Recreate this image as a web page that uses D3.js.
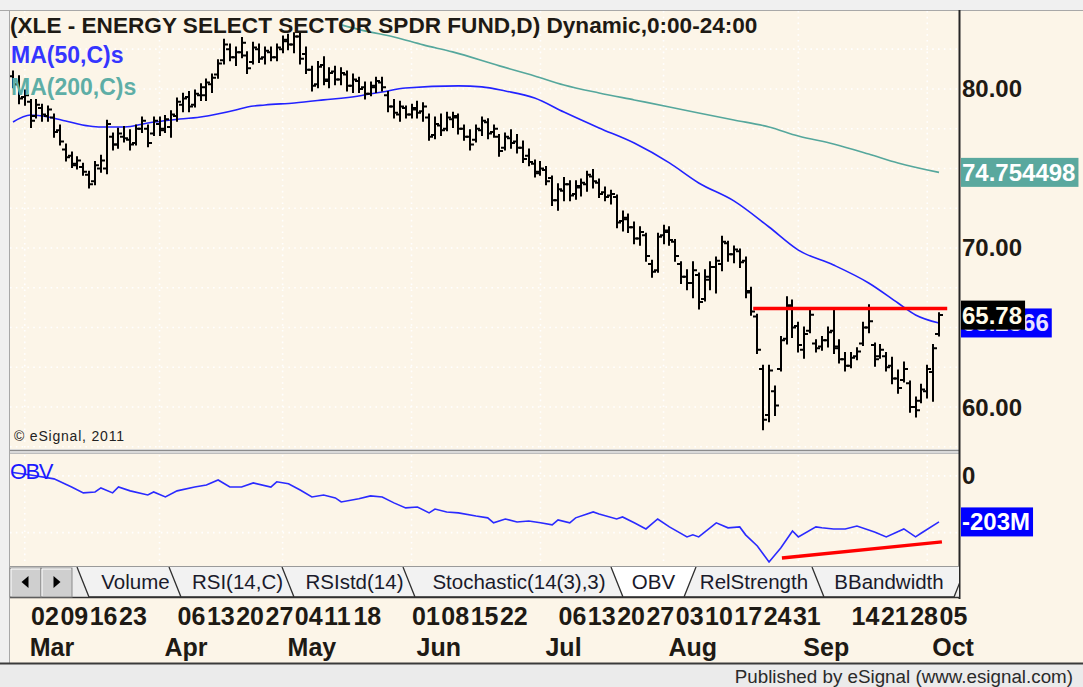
<!DOCTYPE html>
<html><head><meta charset="utf-8">
<script src="https://cdn.jsdelivr.net/npm/d3@7"></script>
<style>
html,body{margin:0;padding:0;background:#f0f0f0;overflow:hidden;}
svg{display:block;font-family:"Liberation Sans",Arial,sans-serif;}
</style></head><body>
<svg id="c" width="1083" height="687"></svg>
<script>
// ---------------- DATA ----------------
const dateStart = "2011-02-25", dateEnd = "2011-10-05";
const opens  = [80.8,80.3,79.5,79.2,78.3,78.8,78.3,78.2,77.4,76.2,75.8,75.2,75.1,74.6,74.2,75.0,75.0,77.0,76.5,77.0,76.8,76.6,77.5,77.5,77.2,77.8,77.5,77.6,78.3,79.0,79.5,79.0,79.6,79.6,80.3,80.9,81.8,82.5,82.0,82.3,82.1,81.7,82.5,82.0,82.3,82.0,82.5,83.0,82.8,83.3,82.2,81.2,80.3,81.5,80.5,81.1,80.6,80.9,80.2,80.5,80.1,79.7,80.1,80.4,79.6,78.9,78.4,78.8,78.4,78.7,78.6,78.2,77.1,77.7,77.5,78.1,78.2,77.5,77.0,76.8,77.4,77.9,77.3,77.0,76.3,76.9,76.7,76.3,75.8,75.3,74.8,74.9,74.4,73.0,73.6,74.0,73.4,73.8,74.0,74.5,74.1,73.5,73.3,73.2,71.7,71.8,71.3,70.6,70.8,69.0,68.6,70.8,71.0,70.4,69.0,68.2,67.8,68.3,66.8,68.0,68.8,69.0,70.3,69.6,69.8,69.2,67.2,65.7,62.4,59.5,61.0,62.4,64.3,66.3,65.1,63.6,64.8,64.0,63.8,64.2,64.8,63.8,63.0,62.6,63.2,64.0,65.0,63.9,63.2,63.2,62.6,61.8,61.7,61.5,60.0,60.4,61.0,62.2,64.6];
const highs  = [81.1,80.8,79.9,79.3,79.3,79.0,78.9,78.4,77.7,76.5,76.0,75.7,75.3,74.8,75.4,75.8,78.0,77.2,77.5,77.6,77.4,77.7,78.2,77.7,78.2,78.2,78.3,78.6,79.4,79.7,79.8,79.9,80.3,80.6,80.9,81.8,83.1,82.8,82.6,83.2,82.3,82.9,82.8,82.6,82.6,82.8,83.3,83.4,83.5,83.5,82.6,81.4,81.7,82.0,81.3,81.4,81.3,81.1,80.9,80.7,80.4,80.4,80.7,80.7,79.8,79.3,79.2,78.9,79.0,79.2,79.1,78.4,78.2,78.4,78.5,78.5,78.4,77.7,77.4,77.7,78.2,78.1,77.7,77.1,77.2,77.4,77.1,76.7,76.2,75.5,75.4,75.1,74.5,74.0,74.4,74.2,74.2,74.3,74.8,74.9,74.3,73.8,73.6,73.3,72.3,72.1,71.6,71.3,70.9,69.2,70.9,71.4,71.3,70.5,69.1,68.6,69.1,68.4,68.6,69.1,69.4,70.7,70.4,70.1,69.9,69.4,67.5,65.8,62.6,62.6,61.3,64.4,66.9,66.7,65.3,65.0,66.1,64.2,64.4,65.0,66.1,64.2,63.4,63.4,63.7,65.3,66.4,64.0,63.9,63.4,63.1,62.3,62.8,61.6,60.6,61.4,62.6,63.9,65.9];
const lows   = [80.1,79.1,79.0,77.6,78.2,78.0,78.0,77.0,76.5,75.5,75.1,75.0,74.6,73.8,74.0,74.8,74.7,76.2,76.3,76.7,76.2,76.5,77.3,76.4,77.1,77.1,77.3,77.0,78.0,78.6,78.6,78.9,79.3,79.3,79.8,80.7,81.6,81.8,81.5,82.0,81.0,81.6,81.7,81.6,81.8,81.8,82.3,82.5,82.3,81.6,81.0,79.9,80.1,80.3,80.1,80.3,80.3,79.9,79.8,79.8,79.4,79.6,79.8,79.9,78.6,78.2,78.0,78.2,78.2,78.2,78.0,76.8,76.9,77.1,77.4,77.6,77.2,76.8,76.2,76.7,77.1,76.9,77.0,75.8,76.2,76.3,76.0,75.4,75.2,74.5,74.6,74.0,72.7,72.4,73.0,73.0,73.1,73.3,73.6,73.8,73.2,73.0,72.8,71.3,71.1,71.0,70.3,70.2,69.2,68.2,68.5,70.3,70.2,69.2,67.8,67.4,66.9,66.2,66.7,67.4,67.2,68.6,69.2,69.1,68.8,66.9,65.8,63.4,58.6,59.1,59.5,62.3,64.0,64.4,63.5,63.1,64.7,63.5,63.6,63.8,63.4,62.8,62.3,62.5,63.0,63.9,64.7,62.6,63.1,62.3,61.5,60.9,61.6,59.7,59.4,60.3,60.6,60.4,64.5];
const closes = [80.3,79.4,79.6,78.0,79.0,78.4,78.7,77.3,76.7,75.7,75.3,75.5,74.8,74.0,75.2,75.5,77.8,76.5,77.2,76.9,76.5,77.5,78.0,76.6,78.0,77.4,78.1,78.4,79.2,79.4,78.9,79.7,80.1,80.4,80.7,81.6,82.8,82.0,82.3,82.9,81.3,82.6,81.9,82.4,82.0,82.6,83.1,82.8,83.3,81.9,81.2,80.2,81.4,80.6,81.0,80.6,81.0,80.2,80.6,80.0,79.7,80.2,80.5,80.1,78.9,78.5,78.9,78.4,78.8,78.5,78.9,77.0,77.8,77.4,78.2,78.3,77.5,77.0,76.5,77.5,78.0,77.2,77.5,76.1,77.0,76.6,76.3,75.6,75.4,74.7,75.0,74.2,73.0,73.7,74.0,73.3,73.9,74.1,74.6,74.2,73.4,73.2,73.4,71.6,71.9,71.3,70.6,71.0,69.5,68.5,70.7,71.1,70.5,69.5,68.2,67.8,68.6,66.6,68.2,68.8,69.2,70.4,69.6,69.9,69.1,67.3,66.0,63.6,59.2,62.3,60.1,64.2,66.4,65.0,63.9,64.6,65.8,63.7,64.2,64.7,63.7,63.0,62.6,63.1,63.5,65.0,65.4,63.0,63.6,62.5,61.8,61.2,62.4,60.0,59.8,61.1,62.4,63.7,65.78];

const ma50Idx = [0,3,6,9,13,15,19,23,27,32,38,40,43,48,53,59,63,67,76,80,84,89,94,100,106,112,117,123,129,134,140,146,151,154,158];
const ma50    = [77.92,78.36,78.24,77.99,77.67,77.61,77.61,77.86,78.05,78.24,78.68,78.87,78.99,79.12,79.31,79.56,79.81,80.06,80.19,80.13,79.87,79.43,78.55,77.55,76.60,75.35,74.09,72.96,71.32,69.87,68.93,67.80,66.54,65.79,65.2866];
const ma200Idx = [56,60,65,70,75,83,89,94,100,106,112,117,123,129,134,140,146,151,158];
const ma200    = [84.03,83.65,83.27,82.77,82.33,81.45,80.82,80.25,79.75,79.31,78.87,78.49,78.05,77.61,77.04,76.54,75.91,75.35,74.754498];

const obvIdx = [0,3,7,10,12,14,15,17,18,20,23,24,26,28,31,33,35,37,39,41,44,45,47,49,51,53,55,56,59,61,63,65,67,69,71,72,74,76,79,81,82,84,86,88,90,92,93,95,96,99,100,103,104,106,108,110,112,115,116,117,120,122,124,125,127,129,131,133,134,137,138,140,142,144,147,149,152,154,155,158];
const obv    = [15,4,-13,-49,-75,-71,-53,-75,-49,-66,-84,-71,-93,-66,-49,-40,-18,-49,-49,-31,-49,-26,-35,-62,-93,-84,-97,-115,-101,-88,-93,-119,-141,-137,-163,-146,-159,-163,-177,-185,-207,-190,-203,-199,-207,-216,-194,-207,-185,-159,-168,-190,-181,-207,-234,-190,-225,-269,-260,-269,-207,-229,-225,-260,-309,-380,-318,-243,-269,-225,-229,-234,-234,-221,-247,-269,-234,-269,-252,-203];

const resistanceLine = [[126.3, 66.2],[159.4, 66.2]];
const obvTrendLine   = [[131.2, -362],[158.5, -291]];

const priceTicks = [60, 70, 80];
const obvTicks = [0];
const weekTicks = ["2011-03-02","2011-03-09","2011-03-16","2011-03-23","2011-04-06","2011-04-13","2011-04-20","2011-04-27","2011-05-04","2011-05-11","2011-05-18","2011-06-01","2011-06-08","2011-06-15","2011-06-22","2011-07-06","2011-07-13","2011-07-20","2011-07-27","2011-08-03","2011-08-10","2011-08-17","2011-08-24","2011-08-31","2011-09-14","2011-09-21","2011-09-28","2011-10-05"];
const monthTicks = ["2011-03-01","2011-04-01","2011-05-02","2011-06-01","2011-07-01","2011-08-01","2011-09-01","2011-10-03"];
const tabNames = ["Volume","RSI(14,C)","RSIstd(14)","Stochastic(14(3),3)","OBV","RelStrength","BBandwidth"];
const selectedTab = "OBV";
const titleText = "(XLE - ENERGY SELECT SECTOR SPDR FUND,D) Dynamic,0:00-24:00";
const ma50Label = "MA(50,C)s", ma200Label = "MA(200,C)s";
const lastObvLabel = "-203M";

// ---------------- LAYOUT ----------------
const L = {left:10, axisX:959, priceTop:11, priceBot:449, obvTop:455, obvBot:565,
  tabTop:567, tabBot:597, bottomBar:663, x0:13, x1:939};
const tabGeom = [[77,194],[169,306],[282,427],[403,635],[611,696],[672,836],[812,966]];
const C = {bg:"#fcf5e8", frame:"#f0f0f0", ma50:"#2222ff", ma200:"#55a79c", obv:"#2a2aff",
  red:"#ff0000", grid:"#ffffff"};

const svg = d3.select("#c");
const parse = d3.timeParse("%Y-%m-%d"), fmtKey = d3.timeFormat("%Y-%m-%d");
const dates = d3.timeDay.range(parse(dateStart), d3.timeDay.offset(parse(dateEnd),1))
  .filter(d => d.getDay() > 0 && d.getDay() < 6).map(fmtKey);
const idxOf = new Map(dates.map((d,i)=>[d,i]));
const N = closes.length;

const x = d3.scaleLinear().domain([0, N-1]).range([L.x0, L.x1]);
const yP = d3.scaleLinear().domain([57.3, 84.9]).range([450, 11]);
const yO = d3.scaleLinear().domain([-393, 101]).range([565, 453]);

// frame
svg.append("rect").attr("width",1083).attr("height",687).attr("fill",C.frame);
svg.append("rect").attr("x",L.left).attr("y",L.priceTop).attr("width",1083-L.left).attr("height",L.bottomBar-L.priceTop).attr("fill",C.bg);
svg.append("line").attr("x1",0).attr("x2",1083).attr("y1",10.5).attr("y2",10.5).attr("stroke","#a8a8a8");
svg.append("line").attr("x1",9.5).attr("x2",9.5).attr("y1",10).attr("y2",663).attr("stroke","#a8a8a8");

const defs = svg.append("defs");
defs.append("clipPath").attr("id","cp").append("rect").attr("x",L.left).attr("y",L.priceTop).attr("width",L.axisX-L.left).attr("height",L.priceBot-L.priceTop);
defs.append("clipPath").attr("id","co").append("rect").attr("x",L.left).attr("y",L.obvTop).attr("width",L.axisX-L.left).attr("height",L.obvBot-L.obvTop);
defs.append("clipPath").attr("id","ct").append("rect").attr("x",L.left).attr("y",L.tabTop).attr("width",L.axisX-L.left).attr("height",L.tabBot-L.tabTop+1);

// grid
const gP = svg.append("g").attr("clip-path","url(#cp)");
const gO = svg.append("g").attr("clip-path","url(#co)");
const gridStyle = s => s.attr("stroke",C.grid).attr("stroke-width",1.6).attr("stroke-dasharray","1.6 4.2");
gP.selectAll("line.h").data(d3.range(57.5, 84.9, 2.5)).join("line").attr("class","h")
  .attr("x1",L.left).attr("x2",L.axisX).attr("y1",d=>yP(d)).attr("y2",d=>yP(d)).call(gridStyle);
[gP,gO].forEach((g,k)=>{
  g.selectAll("line.v").data(monthTicks).join("line").attr("class","v")
   .attr("x1",d=>x(idxOf.get(d))).attr("x2",d=>x(idxOf.get(d)))
   .attr("y1",k?L.obvTop:L.priceTop).attr("y2",k?L.obvBot:L.priceBot).call(gridStyle);
});
gO.selectAll("line.h").data([0,-250]).join("line").attr("class","h")
  .attr("x1",L.left).attr("x2",L.axisX).attr("y1",d=>yO(d)).attr("y2",d=>yO(d)).call(gridStyle);

// moving averages
const lineMA = d3.line().x(d=>x(d[0])).y(d=>yP(d[1])).curve(d3.curveMonotoneX);
gP.append("path").attr("d",lineMA(ma200Idx.map((d,i)=>[d,ma200[i]]))).attr("fill","none").attr("stroke",C.ma200).attr("stroke-width",1.6);
gP.append("path").attr("d",lineMA(ma50Idx.map((d,i)=>[d,ma50[i]]))).attr("fill","none").attr("stroke",C.ma50).attr("stroke-width",1.6);

// OHLC bars
const bars = gP.append("g").attr("stroke","#000").attr("stroke-width",2).attr("fill","none");
bars.selectAll("path").data(closes.map((c,i)=>({i,o:opens[i],h:highs[i],l:lows[i],c})))
  .join("path")
  .attr("d",d=>{const X=Math.round(x(d.i));
    return `M${X},${yP(d.h)-1}V${yP(d.l)+1}M${X-4},${yP(d.o)}H${X}M${X},${yP(d.c)}H${X+4}`;});

// resistance line
gP.append("line").attr("x1",x(resistanceLine[0][0])).attr("x2",x(resistanceLine[1][0]))
  .attr("y1",yP(resistanceLine[0][1])).attr("y2",yP(resistanceLine[1][1]))
  .attr("stroke",C.red).attr("stroke-width",3.5);

// title and legends
svg.append("text").attr("x",10).attr("y",33).attr("font-size",22.6).attr("font-weight","bold").attr("fill","#1e1a14").text(titleText);
svg.append("text").attr("x",11).attr("y",63).attr("font-size",23).attr("font-weight","bold").attr("fill","#3535ff").text(ma50Label);
svg.append("text").attr("x",11).attr("y",95).attr("font-size",23).attr("font-weight","bold").attr("fill","#5eaea6").text(ma200Label);
svg.append("text").attr("x",14).attr("y",441).attr("font-size",14).attr("letter-spacing",0.8).attr("fill","#222").text("© eSignal, 2011");

// panel separator
svg.append("rect").attr("x",L.left).attr("y",449).attr("width",L.axisX-L.left).attr("height",5).attr("fill","#d9d9d9");
svg.append("line").attr("x1",L.left).attr("x2",L.axisX).attr("y1",450.5).attr("y2",450.5).attr("stroke","#8c8c8c");
svg.append("line").attr("x1",L.left).attr("x2",L.axisX).attr("y1",453.5).attr("y2",453.5).attr("stroke","#bdbdbd");

// OBV
gO.append("path").attr("d",d3.line().x(d=>x(d[0])).y(d=>yO(d[1]))(obvIdx.map((d,i)=>[d,obv[i]])))
  .attr("fill","none").attr("stroke",C.obv).attr("stroke-width",1.6);
gO.append("line").attr("x1",x(obvTrendLine[0][0])).attr("x2",x(obvTrendLine[1][0]))
  .attr("y1",yO(obvTrendLine[0][1])).attr("y2",yO(obvTrendLine[1][1]))
  .attr("stroke",C.red).attr("stroke-width",3.5);
svg.append("text").attr("x",10).attr("y",479).attr("font-size",22).attr("letter-spacing",-1.5).attr("fill","#1a1aff").text("OBV");

// axis line
svg.append("line").attr("x1",L.axisX+0.5).attr("x2",L.axisX+0.5).attr("y1",10).attr("y2",599).attr("stroke","#262626").attr("stroke-width",2);

// right axis labels
const axisFont = s => s.attr("font-size",24).attr("font-weight","bold");
svg.selectAll("text.pt").data(priceTicks).join("text").attr("class","pt")
  .attr("x",962).attr("y",d=>yP(d)+8.5).call(axisFont).attr("fill","#1e1a14").text(d=>d3.format(".2f")(d));
svg.selectAll("text.ot").data(obvTicks).join("text").attr("class","ot")
  .attr("x",962).attr("y",d=>yO(d)+8.5).call(axisFont).attr("fill","#1e1a14").text(d=>d);

function valueBox(yc, label, fill, tc){
  const g = svg.append("g");
  const r = g.append("rect").attr("x",961).attr("y",yc-14.5).attr("height",29).attr("fill",fill);
  const t = g.append("text").attr("x",962).attr("y",yc+8.5).call(axisFont).attr("fill",tc).text(label);
  r.attr("width", t.node().getComputedTextLength()+4);
}
valueBox(yP(ma200[ma200.length-1]), String(ma200[ma200.length-1]), "#5aa89e", "#ffffff");
valueBox(yP(ma50[ma50.length-1]), String(ma50[ma50.length-1]), "#0000ff", "#e8e2ff");
valueBox(yP(closes[N-1]), d3.format(".2f")(closes[N-1]), "#000000", "#fffbe8");
valueBox(yO(obv[obv.length-1]), lastObvLabel, "#0000ff", "#ffffff");

// tabs
svg.append("rect").attr("x",L.left).attr("y",L.tabTop).attr("width",L.axisX-L.left).attr("height",L.tabBot-L.tabTop).attr("fill","#ececec");
svg.append("line").attr("x1",L.left).attr("x2",L.axisX).attr("y1",566.5).attr("y2",566.5).attr("stroke","#9a9a9a");
const gT = svg.append("g").attr("clip-path","url(#ct)");
const tabData = tabNames.map((n,i)=>({n, a:tabGeom[i][0], b:tabGeom[i][1], sel:n===selectedTab}));
const drawTab = d => {
  gT.append("path").attr("d",`M${d.a},${L.tabTop}L${d.a+12},${L.tabBot}L${d.b-12},${L.tabBot}L${d.b},${L.tabTop}`)
    .attr("fill",d.sel?"#ffffff":"#f2f2f2").attr("stroke","#303030").attr("stroke-width",1.3);
  gT.append("text").attr("x",(d.a+d.b)/2).attr("y",589).attr("text-anchor","middle").attr("font-size",20.5).attr("fill","#1a1a2a").text(d.n);
};
tabData.filter(d=>!d.sel).forEach(drawTab);
tabData.filter(d=>d.sel).forEach(drawTab);
svg.append("line").attr("x1",L.left).attr("x2",L.axisX+1).attr("y1",597.5).attr("y2",597.5).attr("stroke","#303030").attr("stroke-width",1.5);
// scroll buttons
[[10,"L"],[41,"R"]].forEach(([bx,dir])=>{
  svg.append("rect").attr("x",bx).attr("y",568).attr("width",31).attr("height",29).attr("fill","#cfcfcf").attr("stroke","#8a8a8a");
  svg.append("path").attr("d",`M${bx+1},${596}V${569}H${bx+30}`).attr("fill","none").attr("stroke","#fff");
  const cx = bx+15.5, cy = 582;
  svg.append("path").attr("d", dir==="L" ? `M${cx-4},${cy}L${cx+3},${cy-6}V${cy+6}Z` : `M${cx+4},${cy}L${cx-3},${cy-6}V${cy+6}Z`).attr("fill","#000");
});

// date labels
const dayFmt = d3.timeFormat("%d"), monFmt = d3.timeFormat("%b");
svg.selectAll("text.wk").data(weekTicks).join("text").attr("class","wk")
  .attr("x",d=>x(idxOf.get(d))+0.5).attr("y",625).attr("font-size",25).attr("font-weight","bold").attr("fill","#1e1a14")
  .text(d=>dayFmt(parse(d)));
svg.selectAll("text.mo").data(monthTicks).join("text").attr("class","mo")
  .attr("x",d=>x(idxOf.get(d))+5).attr("y",656).attr("font-size",25).attr("font-weight","bold").attr("fill","#1e1a14")
  .text(d=>monFmt(parse(d)));

// bottom bar
svg.append("rect").attr("x",0).attr("y",L.bottomBar).attr("width",1083).attr("height",687-L.bottomBar).attr("fill","#ebebeb");
svg.append("line").attr("x1",0).attr("x2",1083).attr("y1",L.bottomBar+0.5).attr("y2",L.bottomBar+0.5).attr("stroke","#3a3a3a").attr("stroke-width",2);
svg.append("text").attr("x",1073).attr("y",683).attr("text-anchor","end").attr("font-size",18.8).attr("fill","#2a2a2a").text("Published by eSignal (www.esignal.com)");
</script>
</body></html>
